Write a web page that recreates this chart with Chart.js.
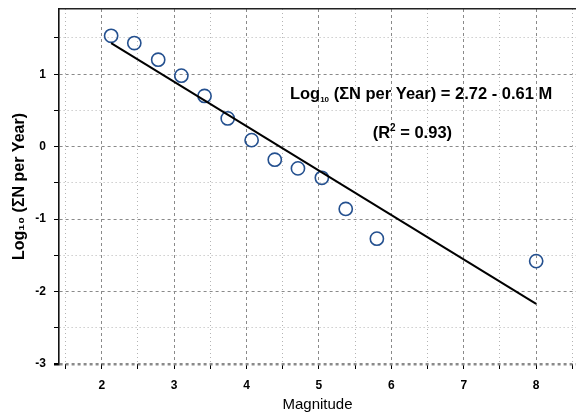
<!DOCTYPE html>
<html>
<head>
    <title>Magnitude - Frequency</title>
    <script src="https://cdn.jsdelivr.net/npm/chart.js"></script>
    <style>
        body { margin: 0; background: #fff; }
    </style>
</head>
<body>
    <canvas id="myChart" width="576" height="416"></canvas>

    <script>
        // Observed points
        var magnitude = [2.13, 2.45, 2.78, 3.10, 3.42, 3.74, 4.07, 4.39, 4.71, 5.04, 5.37, 5.80, 8.00];
        var logN = [1.53, 1.43, 1.20, 0.98, 0.70, 0.39, 0.09, -0.18, -0.30, -0.43, -0.86, -1.27, -1.58];

        // Fitted line end points
        var fitM = [2.13, 8.00];
        var fitLogN = [1.43, -2.17];

        var xTickValues = [1.5, 2, 2.5, 3, 3.5, 4, 4.5, 5, 5.5, 6, 6.5, 7, 7.5, 8, 8.5];
        var yTickValues = [-3, -2.5, -2, -1.5, -1, -0.5, 0, 0.5, 1, 1.5];

        var FONT = "'Liberation Sans', Arial, sans-serif";

        function isMajor(v) { return Math.abs(v - Math.round(v)) < 1e-6; }

        function gridColor(c) {
            if (!c.tick) return '#000';
            return isMajor(c.tick.value) ? '#8a8a8a' : '#b4b4b4';
        }
        function gridDash(c) {
            if (!c.tick) return [];
            return isMajor(c.tick.value) ? [3, 3] : [1, 3];
        }
        // no extra room for the edge labels, the plot goes to the canvas edge
        function noPadding(s) {
            s.paddingTop = s.paddingBottom = s.paddingLeft = s.paddingRight = 0;
        }

        // equation text drawn inside the plot
        var equationLabel = {
            id: 'equationLabel',
            afterDraw: function(chart) {
                var ctx = chart.ctx;
                var x = chart.scales.x, y = chart.scales.y;
                ctx.save();
                ctx.fillStyle = '#000';
                ctx.textBaseline = 'alphabetic';

                var big = 'bold 16.5px ' + FONT, small = 'bold 8px ' + FONT;
                var parts = [['Log', big, 0], ['10', small, 3], [' (\u03A3N per Year) = 2.72 - 0.61 M', big, 0]];
                var w = 0;
                parts.forEach(function(p) { ctx.font = p[1]; w += ctx.measureText(p[0]).width; });
                var px = x.getPixelForValue(6.41) - w / 2, py = y.getPixelForValue(0.66);
                parts.forEach(function(p) {
                    ctx.font = p[1];
                    ctx.fillText(p[0], px, py + p[2]);
                    px += ctx.measureText(p[0]).width;
                });

                var parts2 = [['(R', big, 0], ['2', 'bold 10px ' + FONT, -7], [' = 0.93)', big, 0]];
                w = 0;
                parts2.forEach(function(p) { ctx.font = p[1]; w += ctx.measureText(p[0]).width; });
                px = x.getPixelForValue(6.29) - w / 2;
                py = y.getPixelForValue(0.12);
                parts2.forEach(function(p) {
                    ctx.font = p[1];
                    ctx.fillText(p[0], px, py + p[2]);
                    px += ctx.measureText(p[0]).width;
                });
                ctx.restore();
            }
        };

        var ctx = document.getElementById("myChart").getContext("2d");

        var chart = new Chart(ctx, {
            type: 'scatter',
            data: {
                datasets: [{
                    label: 'Fit',
                    type: 'line',
                    data: fitM.map(function(m, i) { return {x: m, y: fitLogN[i]}; }),
                    borderColor: '#000',
                    borderWidth: 2,
                    pointRadius: 0,
                    fill: false,
                    order: 1
                }, {
                    label: 'Observed',
                    data: magnitude.map(function(m, i) { return {x: m, y: logN[i]}; }),
                    pointStyle: 'circle',
                    pointRadius: 6.6,
                    pointBorderWidth: 1.6,
                    borderColor: '#24508f',
                    backgroundColor: 'rgba(0,0,0,0)',
                    order: 2
                }]
            },
            options: {
                responsive: false,
                animation: false,
                layout: { padding: 0, autoPadding: false },
                plugins: {
                    legend: { display: false },
                    tooltip: { enabled: false }
                },
                scales: {
                    x: {
                        type: 'linear',
                        position: 'bottom',
                        min: 1.41,
                        max: 8.55,
                        afterBuildTicks: function(s) { s.ticks = xTickValues.map(function(v) { return {value: v}; }); },
                        afterFit: function(s) { s.height = 52; noPadding(s); },
                        ticks: {
                            autoSkip: false,
                            maxRotation: 0,
                            padding: 9,
                            color: '#000',
                            font: { family: FONT, size: 12, weight: 'bold' },
                            callback: function(v) { return isMajor(v) ? String(Math.round(v)) : ''; }
                        },
                        grid: {
                            color: gridColor,
                            tickColor: '#000',
                            tickLength: 5,
                            tickBorderDash: [],
                            lineWidth: 1
                        },
                        border: { display: false, dash: gridDash },
                        title: {
                            display: true,
                            text: 'Magnitude',
                            color: '#000',
                            padding: { bottom: 2 },
                            font: { family: FONT, size: 15 }
                        }
                    },
                    xTop: {
                        type: 'linear',
                        position: 'top',
                        min: 1.41,
                        max: 8.55,
                        afterFit: function(s) { s.height = 9; noPadding(s); },
                        ticks: { display: false },
                        grid: { display: false, drawTicks: false },
                        border: { display: true, color: '#222', width: 1.6 }
                    },
                    y: {
                        min: -3,
                        max: 1.9,
                        afterBuildTicks: function(s) { s.ticks = yTickValues.map(function(v) { return {value: v}; }); },
                        afterFit: function(s) { s.width = 59; noPadding(s); },
                        ticks: {
                            autoSkip: false,
                            padding: 8,
                            color: '#000',
                            font: { family: FONT, size: 12, weight: 'bold' },
                            callback: function(v) { return isMajor(v) ? String(Math.round(v)) : ''; }
                        },
                        grid: {
                            color: gridColor,
                            tickColor: '#000',
                            tickLength: 5,
                            tickBorderDash: [],
                            lineWidth: function(c) { return (c.tick && c.tick.value === -3) ? 2.5 : 1; }
                        },
                        border: { display: true, color: '#111', width: 1.6, dash: gridDash },
                        title: {
                            display: true,
                            text: 'Log\u2081\u2080 (\u03A3N per Year)',
                            color: '#000',
                            padding: { top: 10 },
                            font: { family: FONT, size: 16, weight: 'bold' }
                        }
                    }
                }
            },
            plugins: [equationLabel]
        });
    </script>
</body>
</html>
